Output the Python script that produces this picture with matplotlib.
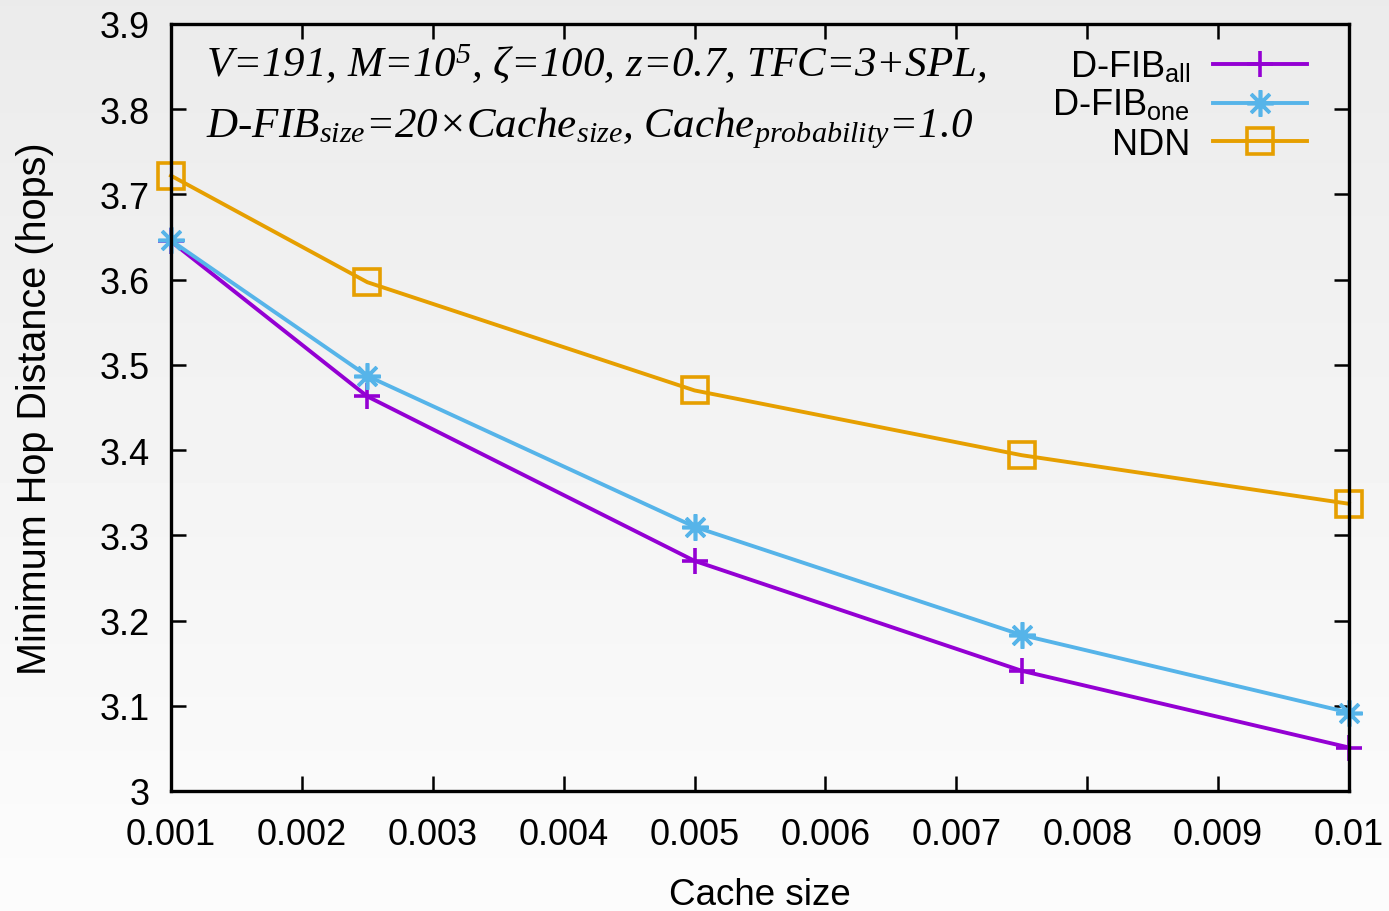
import numpy as np
import matplotlib
matplotlib.use("Agg")
import matplotlib.pyplot as plt
from matplotlib.ticker import FuncFormatter, MultipleLocator

# measured min hop distance per cache size
cache_size = [0.001, 0.0025, 0.005, 0.0075, 0.01]
dfib_all = [3.645, 3.463, 3.270, 3.141, 3.051]
dfib_one = [3.646, 3.487, 3.310, 3.183, 3.092]
ndn = [3.722, 3.597, 3.470, 3.394, 3.337]

series = [
    ("D-FIB$_{\\mathregular{all}}$", dfib_all, "#9400d3", "+"),
    ("D-FIB$_{\\mathregular{one}}$", dfib_one, "#56b4e9", (8, 2, 0)),
    ("NDN", ndn, "#e69f00", "s"),
]

plt.rcParams['font.family'] = ['Liberation Sans', 'DejaVu Sans']
plt.rcParams['mathtext.fontset'] = 'custom'
plt.rcParams['mathtext.rm'] = 'Liberation Serif:italic'
plt.rcParams['mathtext.it'] = 'Liberation Serif:italic'

fig = plt.figure(figsize=(13.89, 9.12), dpi=100)

# grey gradient behind everything
bg = fig.add_axes([0, 0, 1, 1], zorder=-10)
grad = np.linspace(235, 252, 256).reshape(-1, 1) / 255.0
bg.imshow(grad, aspect='auto', cmap='gray', vmin=0, vmax=1, extent=[0, 1, 0, 1], origin='upper')
bg.set_axis_off()

ax = fig.add_axes([0.1231, 0.1316, 0.8481, 0.8410])
ax.patch.set_alpha(0)

for label, vals, col, mk in series:
    kw = dict(markerfacecolor='none') if mk == 's' else {}
    ax.plot(cache_size, vals, color=col, lw=2.8, marker=mk, markersize=19,
            markeredgewidth=2.6, clip_on=False, label=label, **kw)

ax.set_xlim(0.001, 0.01)
ax.set_ylim(3.0, 3.9)
ax.xaxis.set_major_locator(MultipleLocator(0.001))
ax.yaxis.set_major_locator(MultipleLocator(0.1))
fmt = FuncFormatter(lambda v, p: "%g" % round(v, 4))
ax.xaxis.set_major_formatter(fmt)
ax.yaxis.set_major_formatter(fmt)
ax.tick_params(direction='in', length=11, width=1.8, labelsize=26,
               top=True, right=True)
ax.tick_params(axis='x', pad=19)
ax.tick_params(axis='y', pad=15)
for s in ax.spines.values():
    s.set_linewidth(2.4)

ax.set_xlabel("Cache size", fontsize=26.5, labelpad=18)
ax.set_ylabel("Minimum Hop Distance (hops)", fontsize=28.5, labelpad=33)

ax.text(0.03, 0.977,
        "V=191, M=10$^{5}$, \u03b6=100, z=0.7, TFC=3+SPL,",
        transform=ax.transAxes, fontsize=31, family='Liberation Serif',
        style='italic', va='top', ha='left')
ax.text(0.03, 0.895,
        "D-FIB$_{size}$=20\u00d7Cache$_{size}$, Cache$_{probability}$=1.0",
        transform=ax.transAxes, fontsize=31, family='Liberation Serif',
        style='italic', va='top', ha='left')

ax.legend(loc='upper right', bbox_to_anchor=(0.983, 0.995), frameon=False,
          markerfirst=False, fontsize=26, handlelength=2.6,
          labelspacing=0.1, handletextpad=0.65, borderaxespad=0.2)

fig.savefig("out.png", dpi=100)
